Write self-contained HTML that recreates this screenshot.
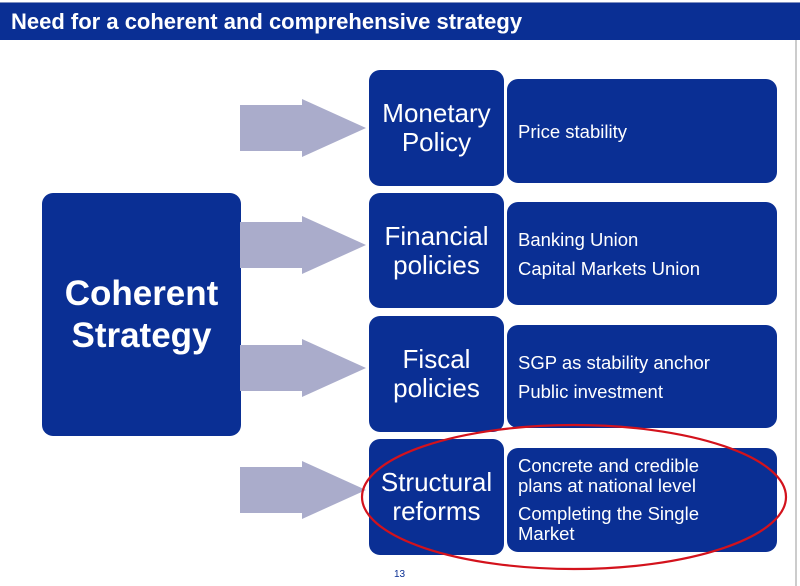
<!DOCTYPE html>
<html><head><style>
body{margin:0;width:800px;height:586px;background:#fff;position:relative;overflow:hidden;font-family:"Liberation Sans",sans-serif}
.hdr{position:absolute;left:0;top:2px;width:800px;height:38px;background:#0a2f94;color:#fff;font-weight:bold;font-size:22px;line-height:38px;padding-left:11px;box-sizing:border-box;border-top:1px solid #8090c0}
.b{position:absolute;background:#0a2f94;border-radius:11px;color:#fff;box-sizing:border-box}
.c{display:flex;align-items:center;justify-content:center;text-align:center;font-size:26px;line-height:29px}
.r{display:flex;flex-direction:column;justify-content:center;padding-left:11px;font-size:18.5px;line-height:21px}
.r p{margin:4px 0}
</style></head><body>
<div class="hdr">Need for a coherent and comprehensive strategy</div>
<div style="position:absolute;left:795px;top:40px;width:2px;height:546px;background:#ccc"></div>
<div class="b c" style="left:42px;top:193px;width:199px;height:243px;font-size:35px;line-height:42px;font-weight:bold">Coherent<br>Strategy</div>
<svg style="position:absolute;left:0;top:0" width="800" height="586">
<g fill="#aaaccb">
<polygon points="240,105 302,105 302,99 366,128 302,157 302,151 240,151"/>
<polygon points="240,222 302,222 302,216 366,245 302,274 302,268 240,268"/>
<polygon points="240,345 302,345 302,339 366,368 302,397 302,391 240,391"/>
<polygon points="240,467 302,467 302,461 366,490 302,519 302,513 240,513"/>
</g>
</svg>
<div class="b c" style="left:369px;top:70px;width:135px;height:116px">Monetary<br>Policy</div>
<div class="b c" style="left:369px;top:193px;width:135px;height:115px">Financial<br>policies</div>
<div class="b c" style="left:369px;top:316px;width:135px;height:116px">Fiscal<br>policies</div>
<div class="b c" style="left:369px;top:439px;width:135px;height:116px">Structural<br>reforms</div>
<div class="b r" style="left:507px;top:79px;width:270px;height:104px"><p>Price stability</p></div>
<div class="b r" style="left:507px;top:202px;width:270px;height:103px"><p>Banking Union</p><p>Capital Markets Union</p></div>
<div class="b r" style="left:507px;top:325px;width:270px;height:103px"><p>SGP as stability anchor</p><p>Public investment</p></div>
<div class="b r" style="left:507px;top:448px;width:270px;height:104px;line-height:20px"><p>Concrete and credible<br>plans at national level</p><p>Completing the Single<br>Market</p></div>
<svg style="position:absolute;left:0;top:0" width="800" height="586">
<ellipse cx="574" cy="497" rx="212" ry="72" fill="none" stroke="#d3121c" stroke-width="2.2"/>
</svg>
<div style="position:absolute;left:394px;top:569px;font-size:10px;color:#0a2f94">13</div>
</body></html>
